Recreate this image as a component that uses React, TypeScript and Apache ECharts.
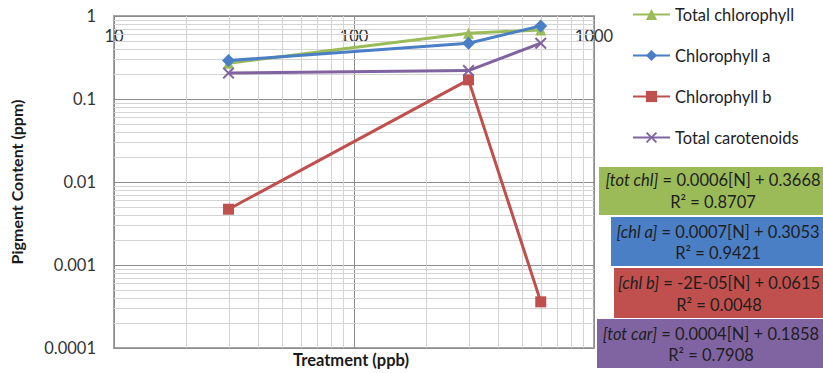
import React, { useEffect, useRef } from "react";
import * as echarts from "echarts";

const seriesNames = ["Total chlorophyll", "Chlorophyll a", "Chlorophyll b", "Total carotenoids"];
const xValues = [30, 300, 600];
const totalChl = [0.27, 0.62, 0.68];
const chlA = [0.29, 0.47, 0.76];
const chlB = [0.0047, 0.17, 0.00036];
const totCar = [0.205, 0.22, 0.47];

const xTickValues = [10, 100, 1000];
const xTickLabels = ["10", "100", "1000"];
const yTickValues = [1, 0.1, 0.01, 0.001, 0.0001];
const yTickLabels = ["1", "0.1", "0.01", "0.001", "0.0001"];

const xMinor = [20, 30, 40, 50, 60, 70, 80, 90, 200, 300, 400, 500, 600, 700, 800, 900];
const yMinor = [
  0.0002, 0.0003, 0.0004, 0.0005, 0.0006, 0.0007, 0.0008, 0.0009,
  0.002, 0.003, 0.004, 0.005, 0.006, 0.007, 0.008, 0.009,
  0.02, 0.03, 0.04, 0.05, 0.06, 0.07, 0.08, 0.09,
  0.2, 0.3, 0.4, 0.5, 0.6, 0.7, 0.8, 0.9,
];

const equations = [
  { name: "[tot chl]", eq: " = 0.0006[N] + 0.3668", r2: "R² = 0.8707" },
  { name: "[chl a]", eq: " = 0.0007[N] + 0.3053", r2: "R² = 0.9421" },
  { name: "[chl b]", eq: " = -2E-05[N] + 0.0615", r2: "R² = 0.0048" },
  { name: "[tot car]", eq: " = 0.0004[N] + 0.1858", r2: "R² = 0.7908" },
];

const COLORS = ["#9BBB59", "#4A7FC6", "#C0504D", "#8064A2"];
const FONT = "Lato, 'Open Sans', sans-serif";
const XSYM = "path://M0,1.2 L1.2,0 L5,3.8 L8.8,0 L10,1.2 L6.2,5 L10,8.8 L8.8,10 L5,6.2 L1.2,10 L0,8.8 L3.8,5 Z";
const MINOR = "#d4d4d4";

function nearestLabel(v: number, values: number[], labels: string[]) {
  let best = 0;
  let bd = Infinity;
  values.forEach((t, i) => {
    const d = Math.abs(Math.log10(t) - Math.log10(v));
    if (d < bd) {
      bd = d;
      best = i;
    }
  });
  return bd < 0.01 ? labels[best] : "";
}

export default function App() {
  const ref = useRef<HTMLDivElement>(null);
  useEffect(() => {
    if (!ref.current) return;
    const chart = echarts.init(ref.current, null, { renderer: "svg" });
    const mk = (vals: number[]) => xValues.map((x, i) => [x, vals[i]]);
    const boxes = [
      { x: 599, y: 167, h: 48, cx: 713, l1: 180, l2: 202 },
      { x: 611, y: 217, h: 49, cx: 718, l1: 232, l2: 253 },
      { x: 614, y: 268, h: 50, cx: 719, l1: 283, l2: 305 },
      { x: 597, y: 319, h: 49, cx: 711, l1: 334, l2: 355 },
    ];
    const EQ_FS = 16.5;
    const graphics: any[] = [];
    boxes.forEach((b, i) => {
      graphics.push({
        type: "rect",
        shape: { x: b.x, y: b.y, width: 823 - b.x + 5, height: b.h },
        style: { fill: COLORS[i] },
      });
      graphics.push({
        type: "text",
        x: b.cx,
        y: b.l1,
        style: {
          text: "{i|" + equations[i].name + "}" + equations[i].eq,
          fill: "#1e1e1e",
          fontSize: EQ_FS,
          fontFamily: FONT,
          align: "center",
          verticalAlign: "middle",
          rich: { i: { fontStyle: "italic", fontSize: EQ_FS, fontFamily: FONT, fill: "#1e1e1e" } },
        },
      });
      graphics.push({
        type: "text",
        x: b.cx,
        y: b.l2,
        style: {
          text: equations[i].r2,
          fill: "#1e1e1e",
          fontSize: EQ_FS,
          fontFamily: FONT,
          align: "center",
          verticalAlign: "middle",
        },
      });
    });
    graphics.push({
      type: "text",
      x: 351,
      y: 360,
      style: {
        text: "Treatment (ppb)",
        fill: "#1a1a1a",
        fontSize: 16.5,
        fontWeight: "bold",
        fontFamily: FONT,
        align: "center",
        verticalAlign: "middle",
      },
    });

    const symbols = ["triangle", "diamond", "rect", XSYM];
    const sizes = [11, 13, 11, 12];
    const datas = [totalChl, chlA, chlB, totCar];

    chart.setOption({
      animation: false,
      textStyle: { fontFamily: FONT },
      grid: {
        left: 107,
        top: 16,
        right: 229,
        bottom: 25,
        show: true,
        borderColor: "#a6a6a6",
        borderWidth: 2,
        backgroundColor: "transparent",
      },
      legend: {
        orient: "vertical",
        left: 627,
        top: 1,
        itemWidth: 37,
        itemHeight: 14,
        itemGap: 24,
        data: seriesNames,
        textStyle: { fontSize: 16.5, color: "#1e1e1e", fontFamily: FONT, lineHeight: 14 },
      },
      xAxis: {
        type: "log",
        logBase: 10,
        min: 10,
        max: 1000,
        position: "top",
        axisLine: { show: false },
        axisTick: { show: false },
        axisLabel: {
          inside: true,
          margin: 11,
          fontSize: 16.5,
          color: "#333",
          fontFamily: FONT,
          formatter: (v: number) => nearestLabel(v, xTickValues, xTickLabels),
        },
        splitLine: { show: true, lineStyle: { color: "#8c8c8c", width: 1 } },
      },
      yAxis: {
        type: "log",
        logBase: 10,
        min: 0.0001,
        max: 1,
        axisLine: { show: false },
        axisTick: { show: false },
        axisLabel: {
          margin: 18,
          fontSize: 16.5,
          color: "#333",
          fontFamily: FONT,
          formatter: (v: number) => nearestLabel(v, yTickValues, yTickLabels),
        },
        splitLine: { show: true, lineStyle: { color: "#8c8c8c", width: 1 } },
        name: "Pigment Content (ppm)",
        nameLocation: "middle",
        nameGap: 90,
        nameRotate: 90,
        nameTextStyle: { fontSize: 16, fontWeight: "bold", color: "#1a1a1a", fontFamily: FONT },
      },
      graphic: graphics,
      series: [
        {
          type: "custom",
          name: "minor-x",
          silent: true,
          z: 1,
          data: xMinor.map((v) => [v, 0.01]),
          renderItem: (params: any, api: any) => {
            const p = api.coord([api.value(0), 0.01]);
            const cs = params.coordSys;
            const x = Math.round(p[0]) + 0.5;
            return {
              type: "line",
              shape: { x1: x, y1: cs.y, x2: x, y2: cs.y + cs.height },
              style: { stroke: MINOR, lineWidth: 1 },
            };
          },
        },
        {
          type: "custom",
          name: "minor-y",
          silent: true,
          z: 1,
          data: yMinor.map((v) => [100, v]),
          renderItem: (params: any, api: any) => {
            const p = api.coord([100, api.value(1)]);
            const cs = params.coordSys;
            const y = Math.round(p[1]) + 0.5;
            return {
              type: "line",
              shape: { x1: cs.x, y1: y, x2: cs.x + cs.width, y2: y },
              style: { stroke: MINOR, lineWidth: 1 },
            };
          },
        },
        ...seriesNames.map((n, i) => ({
          type: "line",
          name: n,
          data: mk(datas[i]),
          z: 3 + i,
          symbol: symbols[i],
          symbolSize: sizes[i],
          lineStyle: { color: COLORS[i], width: 3 },
          itemStyle: { color: COLORS[i] },
          showSymbol: true,
        })),
      ],
    });
    return () => chart.dispose();
  }, []);
  return (
    <div
      ref={ref}
      style={{ position: "fixed", left: 0, top: 0, width: 823, height: 373, background: "#fff" }}
    />
  );
}
